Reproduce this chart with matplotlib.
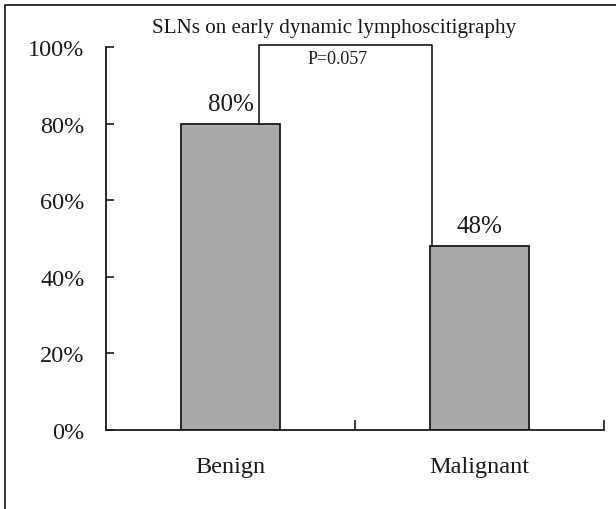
import matplotlib

matplotlib.use("Agg")

import matplotlib.pyplot as plt
from matplotlib.lines import Line2D

# data
categories = ["Benign", "Malignant"]
percentages = [80, 48]
bar_labels = ["80%", "48%"]
y_ticks = [0, 20, 40, 60, 80, 100]
y_tick_labels = ["0%", "20%", "40%", "60%", "80%", "100%"]
title = "SLNs on early dynamic lymphoscitigraphy"
p_text = "P=0.057"

FONT = "Liberation Serif"
BAR_COLOR = "#a8a8a8"
LINE_COLOR = "#1a1a1a"

plt.rcParams["font.family"] = [FONT, "DejaVu Serif"]

fig = plt.figure(figsize=(6.16, 5.10), dpi=100, facecolor="white")
ax = fig.add_axes([106 / 616, 79 / 510, 498 / 616, 383 / 510])

x = list(range(len(categories)))
ax.bar(x, percentages, width=0.4, color=BAR_COLOR, edgecolor=LINE_COLOR, linewidth=1.3, zorder=2)

for xi, val, lab in zip(x, percentages, bar_labels):
    ax.text(xi, val + 2.3, lab, ha="center", va="bottom", fontsize=18, color=LINE_COLOR)

ax.set_xlim(-0.5, 1.5)
ax.set_ylim(0, 100)

ax.set_yticks(y_ticks, labels=y_tick_labels)
ax.set_xticks([0.5, 1.5], labels=["", ""])
ax.tick_params(axis="y", direction="in", length=6, width=1.2, pad=15.5, labelsize=17.5, colors=LINE_COLOR)
ax.tick_params(axis="x", direction="in", length=7, width=1.2, colors=LINE_COLOR)

for xi, cat in zip(x, categories):
    ax.text(xi, -9.5, cat, ha="center", va="center", fontsize=17.5, color=LINE_COLOR)

for side in ("top", "right"):
    ax.spines[side].set_visible(False)
for side in ("left", "bottom"):
    ax.spines[side].set_color(LINE_COLOR)
    ax.spines[side].set_linewidth(1.3)

# significance bracket between the two bars
left_x = x[0] + 0.115
right_x = x[1] - 0.19
top_y = 100.5
ax.plot([left_x, left_x, right_x, right_x], [percentages[0], top_y, top_y, percentages[1]],
        color=LINE_COLOR, linewidth=1.2, clip_on=False, zorder=3)
ax.text(0.43, 97.0, p_text, ha="center", va="center", fontsize=13, color=LINE_COLOR)

fig.text(334 / 616, 1 - 28 / 510, title, ha="center", va="center", fontsize=15.2, color=LINE_COLOR)

# outer frame (top and left edges visible)
fig.add_artist(Line2D([5 / 616, 5 / 616, 1.0], [0.0, 1 - 6 / 510, 1 - 6 / 510],
                      transform=fig.transFigure, color="#333333", linewidth=1.4))

fig.savefig("out.png", dpi=100, facecolor="white")
